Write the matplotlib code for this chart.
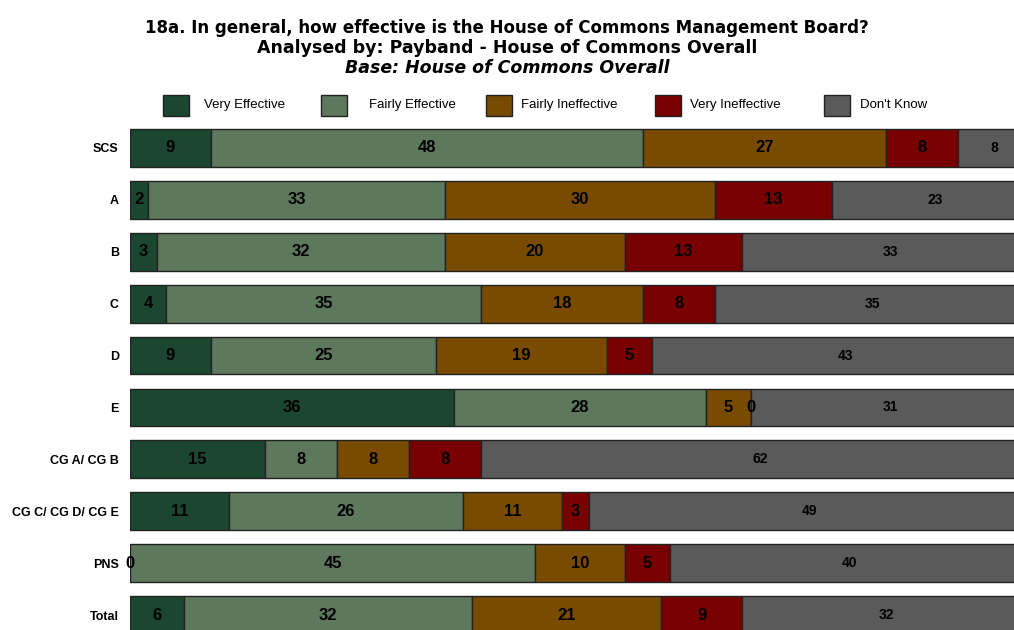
import matplotlib
matplotlib.use("Agg")
import matplotlib.pyplot as plt
import matplotlib.patches as patches

# Data
categories = ["SCS", "A", "B", "C", "D", "E", "CG A/ CG B", "CG C/ CG D/ CG E", "PNS", "Total"]
series_names = ["Very Effective", "Fairly Effective", "Fairly Ineffective", "Very Ineffective", "Don't Know"]
very_effective = [9, 2, 3, 4, 9, 36, 15, 11, 0, 6]
fairly_effective = [48, 33, 32, 35, 25, 28, 8, 26, 45, 32]
fairly_ineffective = [27, 30, 20, 18, 19, 5, 8, 11, 10, 21]
very_ineffective = [8, 13, 13, 8, 5, 0, 8, 3, 5, 9]
dont_know = [8, 23, 33, 35, 43, 31, 62, 49, 40, 32]

series = [very_effective, fairly_effective, fairly_ineffective, very_ineffective, dont_know]
colors = ["#1b4730", "#5e785e", "#794b00", "#780000", "#5a5a5a"]

plt.rcParams['font.family'] = ['Liberation Sans', 'DejaVu Sans']

W, H = 1014, 630
fig = plt.figure(figsize=(W / 100, H / 100), dpi=100)

# Axes placed in pixel terms; right/bottom run past the figure like the original
ax = fig.add_axes([130 / W, -11 / H, 900 / W, 519 / H])
ax.set_xlim(0, 100)
ax.set_ylim(len(categories) - 0.5, -0.5)

ypos = list(range(len(categories)))
left = [0] * len(categories)
for idx, (name, vals, col) in enumerate(zip(series_names, series, colors)):
    ax.barh(ypos, vals, left=left, height=0.73, color=col,
            edgecolor="#222222", linewidth=1.0, label=name)
    for y, v, l in zip(ypos, vals, left):
        size = 10 if idx == 4 else 12
        ax.text(l + v / 2, y, f"{v}", ha="center", va="center",
                fontsize=size, fontweight="bold", color="black")
    left = [a + b for a, b in zip(left, vals)]

ax.set_yticks(ypos)
ax.set_yticklabels(categories, fontsize=9, fontweight="bold")
ax.tick_params(axis="y", length=0, pad=8)
ax.set_xticks([])
for s in ax.spines.values():
    s.set_visible(False)

# Titles
fig.text(0.5, 1 - 28 / H, "18a. In general, how effective is the House of Commons Management Board?",
         ha="center", va="center", fontsize=12, fontweight="bold", family="DejaVu Sans")
fig.text(0.5, 1 - 48 / H, "Analysed by: Payband - House of Commons Overall",
         ha="center", va="center", fontsize=12.5, fontweight="bold", family="DejaVu Sans")
fig.text(0.5, 1 - 68 / H, "Base: House of Commons Overall",
         ha="center", va="center", fontsize=12.5, fontweight="bold", style="italic", family="DejaVu Sans")

# Legend drawn manually to match spacing
patch_x = [163, 321, 486, 655, 824]
text_x = [204, 369, 521, 690, 860]
for px, tx, name, col in zip(patch_x, text_x, series_names, colors):
    fig.patches.append(patches.Rectangle((px / W, 1 - 116 / H), 26 / W, 21 / H,
                                         transform=fig.transFigure, facecolor=col,
                                         edgecolor="#222222", linewidth=1.0))
    fig.text(tx / W, 1 - 105 / H, name, ha="left", va="center", fontsize=9.5)

fig.savefig("out.png", dpi=100)
